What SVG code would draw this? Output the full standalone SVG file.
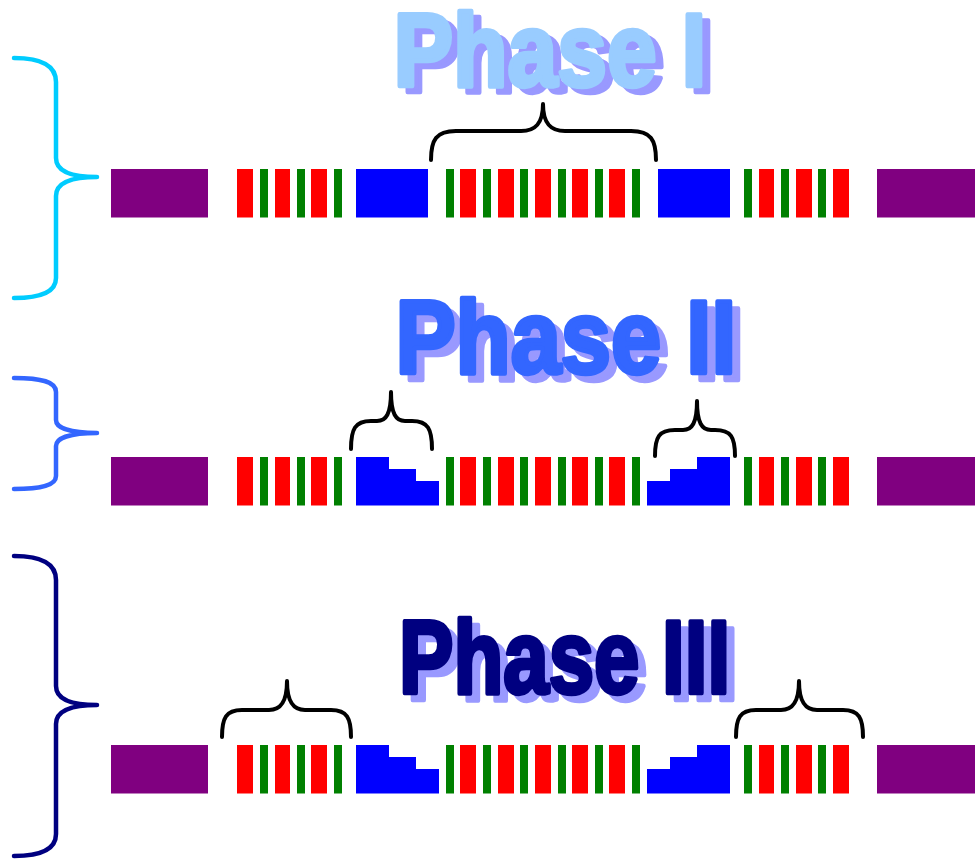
<svg xmlns="http://www.w3.org/2000/svg" xmlns:xlink="http://www.w3.org/1999/xlink" width="980" height="859" viewBox="0 0 980 859">
  <style>
    .red { fill: #ff0000; }
    .grn { fill: #008000; }
    .blu { fill: #0000ff; }
    .pur { fill: #800080; }
    .title { font-family: "Liberation Sans", Arial, sans-serif; font-weight: bold; font-size: 103px; stroke-width: 4.5; stroke-linejoin: round; }
    .shadow { fill: #9999ff; stroke: #9999ff; }
    .brace { fill: none; stroke: #000000; stroke-width: 4; stroke-linecap: round; stroke-linejoin: round; }
    .side { fill: none; stroke-width: 4.5; stroke-linecap: round; stroke-linejoin: round; }
  </style>
  <defs>
    <!-- stripe sets, drawn from y=0, height 48.5 -->
    <g id="stripesL">
      <rect class="red" x="237" y="0" width="16" height="48.5"/>
      <rect class="grn" x="260" y="0" width="8" height="48.5"/>
      <rect class="red" x="275" y="0" width="15" height="48.5"/>
      <rect class="grn" x="297" y="0" width="8" height="48.5"/>
      <rect class="red" x="311" y="0" width="16" height="48.5"/>
      <rect class="grn" x="334" y="0" width="8" height="48.5"/>
    </g>
    <g id="stripesM">
      <rect class="grn" x="446" y="0" width="8" height="48.5"/>
      <rect class="red" x="460" y="0" width="16" height="48.5"/>
      <rect class="grn" x="483" y="0" width="8" height="48.5"/>
      <rect class="red" x="498" y="0" width="16" height="48.5"/>
      <rect class="grn" x="520" y="0" width="8" height="48.5"/>
      <rect class="red" x="535" y="0" width="16" height="48.5"/>
      <rect class="grn" x="558" y="0" width="8" height="48.5"/>
      <rect class="red" x="572" y="0" width="16" height="48.5"/>
      <rect class="grn" x="595" y="0" width="8" height="48.5"/>
      <rect class="red" x="609" y="0" width="16" height="48.5"/>
      <rect class="grn" x="632" y="0" width="8" height="48.5"/>
    </g>
    <g id="stripesR">
      <rect class="grn" x="744" y="0" width="8" height="48.5"/>
      <rect class="red" x="759" y="0" width="15" height="48.5"/>
      <rect class="grn" x="781" y="0" width="8" height="48.5"/>
      <rect class="red" x="796" y="0" width="16" height="48.5"/>
      <rect class="grn" x="818" y="0" width="8" height="48.5"/>
      <rect class="red" x="833" y="0" width="16" height="48.5"/>
    </g>
    <g id="ends">
      <rect class="pur" x="111" y="0" width="97" height="48.5"/>
      <rect class="pur" x="877" y="0" width="98" height="48.5"/>
    </g>
    <polygon id="stepL" class="blu" points="356,0 389,0 389,12 416,12 416,24 439,24 439,48.5 356,48.5"/>
    <polygon id="stepR" class="blu" points="647,24 670,24 670,12 697,12 697,0 730,0 730,48.5 647,48.5"/>
  </defs>

  <!-- titles -->
  <g id="title1" class="title">
    <text class="shadow" x="401.4" y="92" textLength="313" lengthAdjust="spacingAndGlyphs">Phase I</text>
    <text x="393.4" y="85.8" textLength="313" lengthAdjust="spacingAndGlyphs" fill="#99ccff" stroke="#99ccff">Phase I</text>
  </g>
  <g id="title2" class="title">
    <text class="shadow" x="403.4" y="379.5" textLength="341" lengthAdjust="spacingAndGlyphs">Phase II</text>
    <text x="395.4" y="372.8" textLength="341" lengthAdjust="spacingAndGlyphs" fill="#3366ff" stroke="#3366ff">Phase II</text>
  </g>
  <g id="title3" class="title">
    <text class="shadow" x="407.1" y="699.5" textLength="331" lengthAdjust="spacingAndGlyphs">Phase III</text>
    <text x="399.1" y="692.8" textLength="331" lengthAdjust="spacingAndGlyphs" fill="#000080" stroke="#000080">Phase III</text>
  </g>

  <!-- row 1 -->
  <g id="row1" transform="translate(0,169)">
    <use xlink:href="#ends"/>
    <use xlink:href="#stripesL"/>
    <rect class="blu" x="356" y="0" width="72" height="48.5"/>
    <use xlink:href="#stripesM"/>
    <rect class="blu" x="658" y="0" width="72" height="48.5"/>
    <use xlink:href="#stripesR"/>
  </g>

  <!-- row 2 -->
  <g id="row2" transform="translate(0,457)">
    <use xlink:href="#ends"/>
    <use xlink:href="#stripesL"/>
    <use xlink:href="#stepL"/>
    <use xlink:href="#stripesM"/>
    <use xlink:href="#stepR"/>
    <use xlink:href="#stripesR"/>
  </g>

  <!-- row 3 -->
  <g id="row3" transform="translate(0,745)">
    <use xlink:href="#ends"/>
    <use xlink:href="#stripesL"/>
    <use xlink:href="#stepL"/>
    <use xlink:href="#stripesM"/>
    <use xlink:href="#stepR"/>
    <use xlink:href="#stripesR"/>
  </g>

  <!-- braces -->
  <g id="connectors">
    <path class="side" stroke="#00ccff" d="M14,58 C42,58 56,66 56,82 L56,158 C56,171 70,177 97,177 C70,177 56,183 56,196 L56,278 C56,292 42,298 14,298"/>
    <path class="side" stroke="#3366ff" d="M14,378 C42,378 56,382 56,392 L56,420 C56,428 70,433 97,433 C70,433 56,438 56,446 L56,476 C56,485 42,489 14,489"/>
    <path class="side" stroke="#000080" d="M14,556 C42,556 56,564 56,580 L56,686 C56,699 70,705 97,705 C70,705 56,711 56,724 L56,834 C56,849 42,856 14,856"/>

    <path class="brace" d="M431,160 C431,140 436,131 456,131 L521,131 C535,131 543,124 543,104 C543,124 551,131 565,131 L631,131 C651,131 656,140 656,160"/>
    <path class="brace" d="M351,449 C351,429 355,421 371,421 L377,421 C386,421 391,414 391,392 C391,414 396,421 405,421 L412,421 C428,421 432,429 432,449"/>
    <path class="brace" d="M655,456 C655,437 659,430 675,430 L683,430 C692,430 697,423 697,401 C697,423 702,430 711,430 L715,430 C731,430 735,437 735,456"/>
    <path class="brace" d="M222,737 C222,718 226,710 242,710 L269,710 C280,710 287,703 287,681 C287,703 294,710 305,710 L331,710 C347,710 351,718 351,737"/>
    <path class="brace" d="M736,737 C736,718 740,710 756,710 L781,710 C792,710 799,703 799,681 C799,703 806,710 817,710 L843,710 C859,710 863,718 863,737"/>
  </g>
</svg>
